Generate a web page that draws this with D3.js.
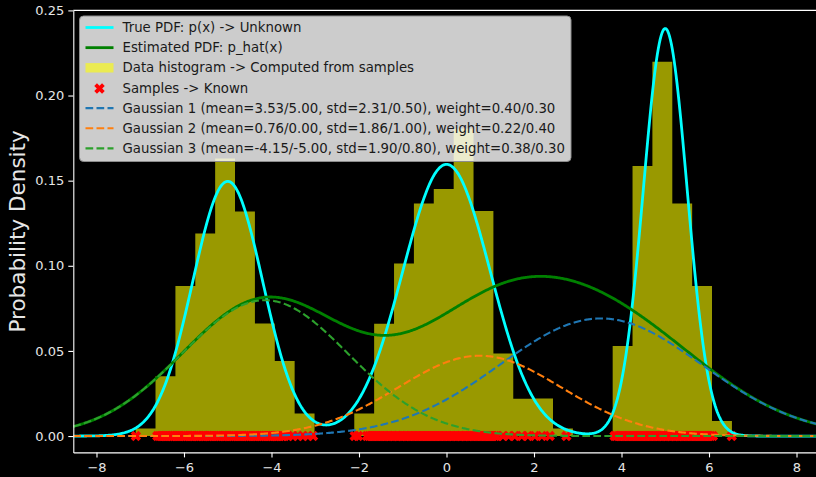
<!DOCTYPE html>
<html>
<head>
<meta charset="utf-8">
<script src="https://cdn.jsdelivr.net/npm/d3@7"></script>
<style>
  html, body { margin: 0; padding: 0; background: #000; overflow: hidden; }
  svg { display: block; font-family: "DejaVu Sans", sans-serif; }
</style>
</head>
<body>
<svg id="chart" width="816" height="477"></svg>
<script>
// --- data ---
const xTicks = [-8, -6, -4, -2, 0, 2, 4, 6, 8];
const yTicks = [0.00, 0.05, 0.10, 0.15, 0.20, 0.25];

// true mixture (p(x)) and fitted mixture (p_hat(x))
const trueMeans = [5.00, 0.00, -5.00];
const trueStds = [0.50, 1.00, 0.80];
const trueWeights = [0.30, 0.40, 0.30];
const estMeans = [3.53, 0.76, -4.15];
const estStds = [2.31, 1.86, 1.90];
const estWeights = [0.40, 0.22, 0.38];
const compColors = ["#1f77b4", "#ff7f0e", "#2ca02c"];

// histogram: 30 bins, 500 samples, density=True
const nSamples = 500;
const binEdges = [-7.105, -6.651, -6.196, -5.742, -5.288, -4.834, -4.379, -3.925, -3.471, -3.016,
  -2.562, -2.108, -1.654, -1.199, -0.745, -0.291, 0.164, 0.618, 1.072, 1.526,
  1.981, 2.435, 2.889, 3.344, 3.798, 4.252, 4.706, 5.161, 5.615, 6.069, 6.524];
const binCounts = [1, 8, 20, 27, 37, 30, 15, 10, 3, 0,
  0, 3, 15, 23, 31, 33, 41, 30, 11, 5,
  5, 1, 0, 0, 12, 36, 50, 31, 20, 2];

// sample positions (drawn at y = 0)
const samples = [-7.10,
  -6.61, -6.56, -6.52, -6.47, -6.44, -6.39, -6.35, -6.30, -6.27, -6.22, -6.18, -6.13, -6.10,
  -6.05, -6.01, -5.97, -5.93, -5.88, -5.84, -5.80, -5.76, -5.71, -5.68, -5.63, -5.59, -5.55,
  -5.51, -5.46, -5.42, -5.38, -5.34, -5.29, -5.25, -5.21, -5.17, -5.12, -5.08, -5.04, -5.00,
  -4.95, -4.91, -4.87, -4.83, -4.78, -4.74, -4.70, -4.66, -4.61, -4.57, -4.53, -4.49, -4.44,
  -4.40, -4.36, -4.32, -4.27, -4.23, -4.19, -4.15, -4.10, -4.06, -4.02, -3.98, -3.93, -3.89,
  -3.85, -3.81, -3.76, -3.70, -3.62, -3.51, -3.40, -3.28, -3.17, -3.05,
  -2.10, -2.02, -1.82, -1.77, -1.73, -1.68, -1.64, -1.59, -1.55, -1.50, -1.46, -1.41, -1.37,
  -1.32, -1.28, -1.23, -1.19, -1.14, -1.10, -1.05, -1.01, -0.96, -0.92, -0.87, -0.83, -0.78,
  -0.74, -0.69, -0.65, -0.60, -0.56, -0.51, -0.47, -0.42, -0.38, -0.33, -0.29, -0.24, -0.20,
  -0.15, -0.11, -0.06, -0.02, 0.03, 0.07, 0.12, 0.16, 0.21, 0.25, 0.30, 0.34, 0.39, 0.43,
  0.48, 0.52, 0.57, 0.61, 0.66, 0.70, 0.75, 0.79, 0.84, 0.88, 0.93, 0.97, 1.02, 1.06, 1.11,
  1.15, 1.29, 1.42, 1.56, 1.72, 1.86, 2.02, 2.18, 2.36, 2.74,
  3.84, 3.88, 3.93, 3.97, 4.02, 4.06, 4.11, 4.15, 4.20, 4.24, 4.29, 4.33, 4.38, 4.42, 4.47,
  4.51, 4.56, 4.60, 4.65, 4.69, 4.74, 4.78, 4.83, 4.87, 4.92, 4.96, 5.01, 5.05, 5.10, 5.14,
  5.19, 5.23, 5.28, 5.32, 5.37, 5.41, 5.46, 5.50, 5.55, 5.59, 5.64, 5.68, 5.73, 5.77, 5.82,
  5.86, 5.91, 5.95, 6.00, 6.04, 6.09, 6.52];

const legendLabels = [
  "True PDF: p(x) -> Unknown",
  "Estimated PDF: p_hat(x)",
  "Data histogram -> Computed from samples",
  "Samples -> Known",
  "Gaussian 1 (mean=3.53/5.00, std=2.31/0.50), weight=0.40/0.30",
  "Gaussian 2 (mean=0.76/0.00, std=1.86/1.00), weight=0.22/0.40",
  "Gaussian 3 (mean=-4.15/-5.00, std=1.90/0.80), weight=0.38/0.30"
];

// --- layout ---
const svg = d3.select("#chart");
const plot = { left: 73.3, right: 819.7, top: 10.4, bottom: 452.4 };

const x = d3.scaleLinear().domain([-8.53, 8.53]).range([plot.left, plot.right]);
const y = d3.scaleLinear().domain([-0.0096, 0.25]).range([plot.bottom, plot.top]);

svg.append("defs").append("clipPath").attr("id", "clip")
  .append("rect")
  .attr("x", plot.left).attr("y", plot.top)
  .attr("width", plot.right - plot.left).attr("height", plot.bottom - plot.top);

const g = svg.append("g").attr("clip-path", "url(#clip)");

// gaussian pdf
function npdf(v, m, s) {
  const z = (v - m) / s;
  return Math.exp(-0.5 * z * z) / (s * Math.sqrt(2 * Math.PI));
}

const grid = d3.range(0, 801).map(i => x.domain()[0] + (x.domain()[1] - x.domain()[0]) * i / 800);

// histogram as one stepped area (no seams between bars)
const dens = binCounts.map((c, i) => c / (nSamples * (binEdges[i + 1] - binEdges[i])));
const histPts = binEdges.map((e, i) => [e, i < dens.length ? dens[i] : dens[dens.length - 1]]);
g.append("path")
  .datum(histPts)
  .attr("d", d3.area().curve(d3.curveStepAfter).x(d => x(d[0])).y0(y(0)).y1(d => y(d[1])))
  .attr("fill", "yellow")
  .attr("fill-opacity", 0.6);

// filled "X" marker
function xMarker(h, t) {
  const pts = [[t, h], [-t, h], [-t, t], [-h, t], [-h, -t], [-t, -t], [-t, -h], [t, -h], [t, -t], [h, -t], [h, t], [t, t]];
  const c = Math.SQRT1_2;
  return "M" + pts.map(p => [(p[0] - p[1]) * c, (p[0] + p[1]) * c].join(",")).join("L") + "Z";
}
const markerPath = xMarker(5.5, 1.9);

g.selectAll("path.sample")
  .data(samples)
  .join("path")
  .attr("class", "sample")
  .attr("d", markerPath)
  .attr("transform", d => `translate(${x(d)},${y(0)})`)
  .attr("fill", "red");

const line = d3.line().x(d => x(d[0])).y(d => y(d[1]));

const truePdf = grid.map(v => [v, d3.sum(trueMeans, (m, i) => trueWeights[i] * npdf(v, m, trueStds[i]))]);
const estPdf = grid.map(v => [v, d3.sum(estMeans, (m, i) => estWeights[i] * npdf(v, m, estStds[i]))]);

g.append("path").datum(truePdf).attr("d", line)
  .attr("fill", "none").attr("stroke", "cyan").attr("stroke-width", 2.8);

g.append("path").datum(estPdf).attr("d", line)
  .attr("fill", "none").attr("stroke", "green").attr("stroke-width", 2.8);

estMeans.forEach((m, i) => {
  g.append("path")
    .datum(grid.map(v => [v, estWeights[i] * npdf(v, m, estStds[i])]))
    .attr("d", line)
    .attr("fill", "none")
    .attr("stroke", compColors[i])
    .attr("stroke-width", 2.1)
    .attr("stroke-dasharray", "7.7,3.3");
});

// --- axes ---
const axisColor = "#e6e6e6";

const yAxisG = svg.append("g")
  .attr("transform", `translate(${plot.left},0)`)
  .call(d3.axisLeft(y).tickValues(yTicks).tickFormat(d3.format(".2f")).tickSize(5).tickPadding(4).tickSizeOuter(0));

const xAxisG = svg.append("g")
  .attr("transform", `translate(0,${plot.bottom})`)
  .call(d3.axisBottom(x).tickValues(xTicks).tickFormat(d3.format("d")).tickSize(5).tickPadding(5).tickSizeOuter(0));

[yAxisG, xAxisG].forEach(a => {
  a.selectAll("path,line").attr("stroke", "white").attr("stroke-width", 1.1);
  a.selectAll("text")
    .attr("fill", axisColor)
    .style("font-family", "DejaVu Sans")
    .style("font-size", "13px");
});

// top spine
svg.append("line")
  .attr("x1", plot.left).attr("x2", plot.right)
  .attr("y1", plot.top).attr("y2", plot.top)
  .attr("stroke", "white").attr("stroke-width", 1.1);

svg.append("text")
  .attr("transform", `translate(17,${(plot.top + plot.bottom) / 2}) rotate(-90)`)
  .attr("text-anchor", "middle")
  .attr("dy", "0.35em")
  .attr("fill", axisColor)
  .style("font-size", "21.5px")
  .text("Probability Density");

// --- legend ---
const leg = svg.append("g").attr("transform", "translate(79.5,16)");
leg.append("rect")
  .attr("width", 491.5).attr("height", 145.5)
  .attr("rx", 4).attr("ry", 4)
  .attr("fill", "white").attr("fill-opacity", 0.8)
  .attr("stroke", "#8c8c8c").attr("stroke-width", 1);

const rowY = i => 11.5 + i * 20.15;
const hx0 = 6, hx1 = 34, tx = 43;

legendLabels.forEach((lab, i) => {
  const cy = rowY(i);
  if (i === 0 || i === 1) {
    leg.append("line").attr("x1", hx0).attr("x2", hx1).attr("y1", cy).attr("y2", cy)
      .attr("stroke", i === 0 ? "cyan" : "green").attr("stroke-width", 2.8);
  } else if (i === 2) {
    leg.append("rect").attr("x", hx0).attr("y", cy - 4.7).attr("width", hx1 - hx0).attr("height", 9.4)
      .attr("fill", "yellow").attr("fill-opacity", 0.6);
  } else if (i === 3) {
    leg.append("path").attr("d", markerPath)
      .attr("transform", `translate(${(hx0 + hx1) / 2},${cy + 0.5})`).attr("fill", "red");
  } else {
    leg.append("line").attr("x1", hx0).attr("x2", hx1).attr("y1", cy).attr("y2", cy)
      .attr("stroke", compColors[i - 4]).attr("stroke-width", 2.1)
      .attr("stroke-dasharray", "7.7,3.3");
  }
  leg.append("text")
    .attr("x", tx).attr("y", cy)
    .attr("dy", "0.35em")
    .attr("fill", "#1a1a1a")
    .style("font-size", "13.3px")
    .text(lab);
});
</script>
</body>
</html>
